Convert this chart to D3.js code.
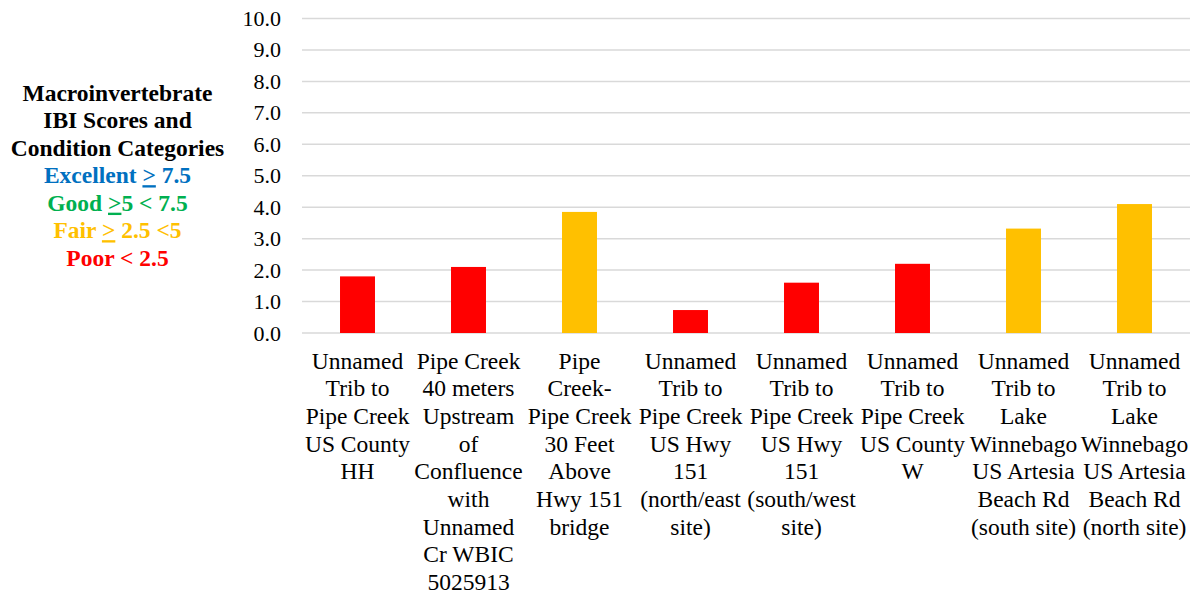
<!DOCTYPE html>
<html>
<head>
<meta charset="utf-8">
<script src="https://cdn.jsdelivr.net/npm/d3@7"></script>
</head>
<body style="margin:0; background:#fff">
<svg id="chart" width="1198" height="595"></svg>
<script>
// site names, one entry per line of the wrapped label
var sites = [
  ["Unnamed", "Trib to", "Pipe Creek", "US County", "HH"],
  ["Pipe Creek", "40 meters", "Upstream", "of", "Confluence", "with", "Unnamed", "Cr WBIC", "5025913"],
  ["Pipe", "Creek-", "Pipe Creek", "30 Feet", "Above", "Hwy 151", "bridge"],
  ["Unnamed", "Trib to", "Pipe Creek", "US Hwy", "151", "(north/east", "site)"],
  ["Unnamed", "Trib to", "Pipe Creek", "US Hwy", "151", "(south/west", "site)"],
  ["Unnamed", "Trib to", "Pipe Creek", "US County", "W"],
  ["Unnamed", "Trib to", "Lake", "Winnebago", "US Artesia", "Beach Rd", "(south site)"],
  ["Unnamed", "Trib to", "Lake", "Winnebago", "US Artesia", "Beach Rd", "(north site)"]
];
var scores = [1.8, 2.1, 3.85, 0.73, 1.6, 2.2, 3.32, 4.1];
var yTicks = [0, 1, 2, 3, 4, 5, 6, 7, 8, 9, 10];

// condition categories (legend text on the left)
var titleLines = ["Macroinvertebrate", "IBI Scores and", "Condition Categories"];
var categoryColors = ["#0070C0", "#00B050", "#FFC000", "#FF0000"];
var categoryMin = [7.5, 5, 2.5, 0];
// [text, underlined?] pieces of each category line
var categoryParts = [
  [["Excellent ", false], [">", true], [" 7.5", false]],
  [["Good ", false], [">", true], ["5 < 7.5", false]],
  [["Fair ", false], [">", true], [" 2.5 <5", false]],
  [["Poor < 2.5", false]]
];

var FONT = "'Liberation Serif', 'Times New Roman', serif";

var svg = d3.select("#chart");
var margin = { left: 302, right: 8, top: 18.5, bottom: 262 };
var width = 1198 - margin.left - margin.right;
var height = 595 - margin.top - margin.bottom;

var g = svg.append("g").attr("transform", "translate(" + margin.left + "," + margin.top + ")");

var x = d3.scaleBand().domain(d3.range(sites.length)).range([0, width]).paddingInner(0.685).paddingOuter(0.3425);
var y = d3.scaleLinear().domain([0, 10]).range([height, 0]);

var colorFor = function(v) {
  for (var i = 0; i < categoryMin.length; i++) {
    if (v >= categoryMin[i]) return categoryColors[i];
  }
  return categoryColors[categoryColors.length - 1];
};

// gridlines
g.selectAll("line.grid")
  .data(yTicks)
  .enter()
  .append("line")
  .attr("class", "grid")
  .attr("x1", 0)
  .attr("x2", width)
  .attr("y1", function(d) { return y(d); })
  .attr("y2", function(d) { return y(d); })
  .attr("stroke", "#d9d9d9")
  .attr("stroke-width", 1.5);

// y axis: labels only
var ya = g.append("g")
  .call(d3.axisLeft(y).tickValues(yTicks).tickFormat(d3.format(".1f")).tickSize(0).tickPadding(21));
ya.select(".domain").remove();
ya.selectAll("text")
  .attr("fill", "#000")
  .style("font-family", FONT)
  .style("font-size", "22px");

// bars
g.selectAll("rect.bar")
  .data(scores)
  .enter()
  .append("rect")
  .attr("class", "bar")
  .attr("x", function(d, i) { return x(i); })
  .attr("width", x.bandwidth())
  .attr("y", function(d) { return y(d); })
  .attr("height", function(d) { return y(0) - y(d); })
  .attr("fill", function(d) { return colorFor(d); });

// category labels
var lineH = 27.7;
var labels = g.selectAll("text.site")
  .data(sites)
  .enter()
  .append("text")
  .attr("class", "site")
  .attr("text-anchor", "middle")
  .attr("fill", "#000")
  .style("font-family", FONT)
  .style("font-size", "23.5px")
  .attr("transform", function(d, i) { return "translate(" + (x(i) + x.bandwidth() / 2) + "," + (height + 35.5) + ")"; });
labels.selectAll("tspan")
  .data(function(d) { return d; })
  .enter()
  .append("tspan")
  .attr("x", 0)
  .attr("y", function(d, i) { return i * lineH; })
  .text(function(d) { return d; });

// legend text block on the left
var lx = 117.5, ly = 100.7, lh = 27.5;
var legendText = function(i, color) {
  return svg.append("text")
    .attr("x", lx)
    .attr("y", ly + i * lh)
    .attr("text-anchor", "middle")
    .attr("fill", color)
    .style("font-family", FONT)
    .style("font-size", "23.5px")
    .style("font-weight", "bold")
    .style("white-space", "pre");
};
titleLines.forEach(function(t, i) {
  legendText(i, "#000").text(t);
});
categoryParts.forEach(function(parts, i) {
  var t = legendText(i + titleLines.length, categoryColors[i]);
  parts.forEach(function(p) {
    t.append("tspan")
      .style("text-decoration", p[1] ? "underline" : null)
      .text(p[0]);
  });
});
</script>
</body>
</html>
